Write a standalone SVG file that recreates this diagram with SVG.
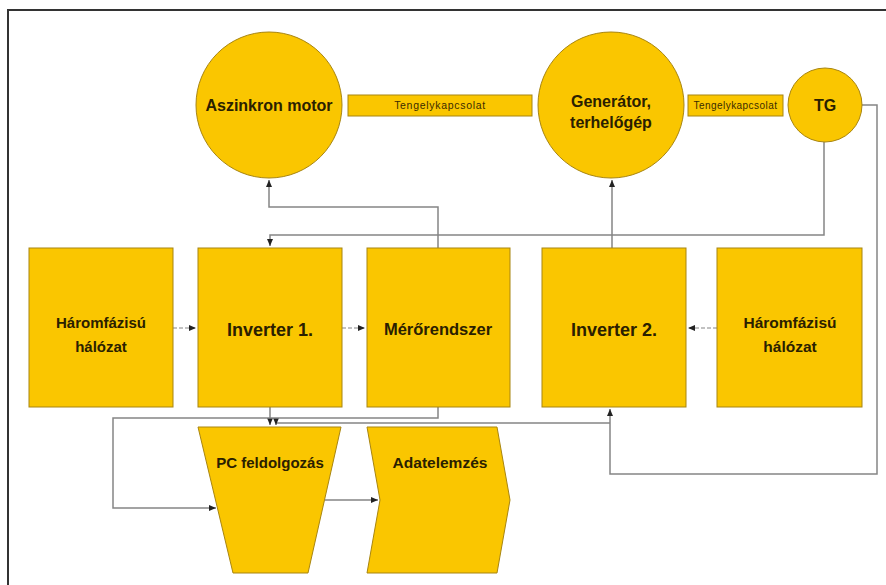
<svg xmlns="http://www.w3.org/2000/svg" width="886" height="585" viewBox="0 0 886 585">
<defs>
<marker id="ah" markerWidth="8" markerHeight="8" refX="7" refY="4" orient="auto" markerUnits="userSpaceOnUse">
<path d="M0,1 L7,4 L0,7 Z" fill="#222"/>
</marker>
<style>
.n{fill:#FAC600;stroke:#A88510;stroke-width:1}
.t{font-family:"Liberation Sans",Arial,sans-serif;font-weight:bold;fill:#2a2000;text-anchor:middle}
.s{font-family:"Liberation Sans",Arial,sans-serif;fill:#3a2c00;text-anchor:middle;font-size:10.5px;letter-spacing:0.7px}
.c{fill:none;stroke:#858585;stroke-width:1.5}
.d{fill:none;stroke:#858585;stroke-width:1.2;stroke-dasharray:4 2}
</style>
</defs>
<rect width="886" height="585" fill="#fff"/>
<path d="M8,585 V10 H886" fill="none" stroke="#333" stroke-width="2"/>

<g id="connectors">
<path class="c" d="M438,248 V207 H269 V180" marker-end="url(#ah)"/>
<path class="c" d="M612,248 V180" marker-end="url(#ah)"/>
<path class="c" d="M824,142 V235 H270 V246" marker-end="url(#ah)"/>
<path class="c" d="M862,105 H877 V474 H610 V409" marker-end="url(#ah)"/>
<path class="d" d="M173,328 H196" marker-end="url(#ah)"/>
<path class="d" d="M342,328 H365" marker-end="url(#ah)"/>
<path class="d" d="M717,328 H688" marker-end="url(#ah)"/>
<path class="c" d="M270,407 V425" marker-end="url(#ah)"/>
<path class="c" d="M610,423 H276 V425" marker-end="url(#ah)"/>
<path class="c" d="M438,407 V418 H113 V508 H216" marker-end="url(#ah)"/>
<path class="c" d="M325,500 H378" marker-end="url(#ah)"/>
</g>

<g id="aszinkron-motor">
<circle class="n" cx="269" cy="105" r="73"/>
<text class="t" x="269" y="111" font-size="16">Aszinkron motor</text>
</g>
<g id="tengelykapcsolat-1">
<rect class="n" x="348" y="95" width="184" height="21"/>
<text class="s" x="440" y="109">Tengelykapcsolat</text>
</g>
<g id="generator">
<circle class="n" cx="611" cy="105" r="73"/>
<text class="t" x="611" y="107" font-size="16">Generátor,</text>
<text class="t" x="611" y="128" font-size="16">terhelőgép</text>
</g>
<g id="tengelykapcsolat-2">
<rect class="n" x="688" y="95" width="95" height="21"/>
<text class="s" x="735.5" y="109" style="font-size:10px;letter-spacing:0.45px">Tengelykapcsolat</text>
</g>
<g id="tg">
<circle class="n" cx="825" cy="105" r="37"/>
<text class="t" x="825" y="111" font-size="16">TG</text>
</g>
<g id="haromfazisu-1">
<rect class="n" x="29" y="248" width="144" height="159"/>
<text class="t" x="101" y="328" font-size="15">Háromfázisú</text>
<text class="t" x="101" y="352" font-size="15">hálózat</text>
</g>
<g id="inverter-1">
<rect class="n" x="198" y="248" width="144" height="159"/>
<text class="t" x="270" y="336" font-size="18">Inverter 1.</text>
</g>
<g id="meroerendszer">
<rect class="n" x="367" y="248" width="143" height="159"/>
<text class="t" x="438" y="335" font-size="16.5">Mérőrendszer</text>
</g>
<g id="inverter-2">
<rect class="n" x="542" y="248" width="144" height="159"/>
<text class="t" x="614" y="336" font-size="18">Inverter 2.</text>
</g>
<g id="haromfazisu-2">
<rect class="n" x="717" y="248" width="145" height="159"/>
<text class="t" x="790" y="328" font-size="15.5">Háromfázisú</text>
<text class="t" x="790" y="352" font-size="15.5">hálózat</text>
</g>
<g id="pc-feldolgozas">
<path class="n" d="M198,427 H341 L308,573 H233 Z"/>
<text class="t" x="270" y="468" font-size="15">PC feldolgozás</text>
</g>
<g id="adatelemzes">
<path class="n" d="M367,427 H497 L510,500 L497,573 H367 L380,500 Z"/>
<text class="t" x="440" y="468" font-size="15.5">Adatelemzés</text>
</g>
</svg>
